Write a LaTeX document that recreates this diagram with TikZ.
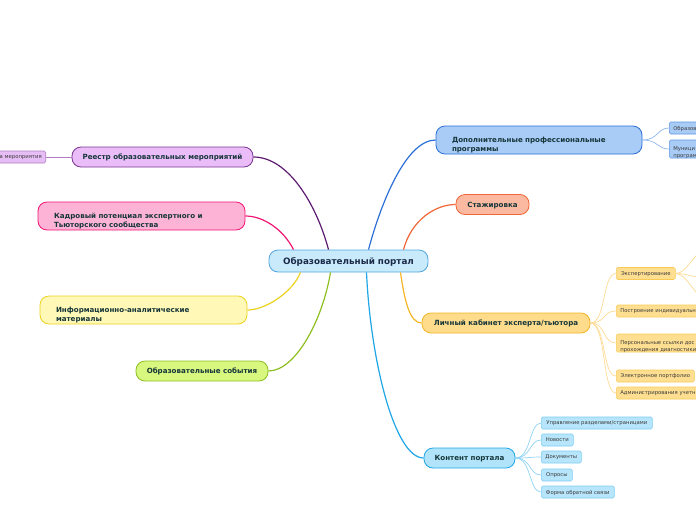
\documentclass[tikz,border=0pt]{standalone}
\usepackage{fontspec}
\setmainfont{DejaVu Sans}

\definecolor{nodetext}{HTML}{16363A}
\definecolor{leaftext}{HTML}{3A3A3A}
\definecolor{corefill}{HTML}{C8EAFB}
\definecolor{coreline}{HTML}{4FA6DE}
\definecolor{coretext}{HTML}{1B2A48}
\definecolor{reestrfill}{HTML}{EABDF9}
\definecolor{reestrline}{HTML}{7B3592}
\definecolor{reestrbranch}{HTML}{5C1A70}
\definecolor{reestrleaf}{HTML}{E6BDF5}
\definecolor{reestrleafline}{HTML}{B07CC4}
\definecolor{kadryfill}{HTML}{FDB3D6}
\definecolor{kadryline}{HTML}{EF1674}
\definecolor{infofill}{HTML}{FFF8B6}
\definecolor{infoline}{HTML}{EBD21E}
\definecolor{sobytiyafill}{HTML}{D8F77F}
\definecolor{sobytiyaline}{HTML}{8DBE20}
\definecolor{dppfill}{HTML}{A9CCF7}
\definecolor{dppline}{HTML}{2C6FD6}
\definecolor{dppleafline}{HTML}{5F97E0}
\definecolor{dpptwig}{HTML}{8FB6EE}
\definecolor{stazhfill}{HTML}{FBB9A1}
\definecolor{stazhline}{HTML}{F26534}
\definecolor{lkfill}{HTML}{FEDC8B}
\definecolor{lkline}{HTML}{F5B525}
\definecolor{lkleaf}{HTML}{FEDE90}
\definecolor{lkleafline}{HTML}{F9CB55}
\definecolor{lktwig}{HTML}{FDDB95}
\definecolor{kontentfill}{HTML}{B1E4FB}
\definecolor{kontentline}{HTML}{1FA6E6}
\definecolor{kontentleaf}{HTML}{B7E5FB}
\definecolor{kontentleafline}{HTML}{7FCDF2}
\definecolor{kontenttwig}{HTML}{8FD3F4}

\begin{document}
\begin{tikzpicture}[
            x = 1pt, y = -1pt,
            every node/.style={text depth=0pt, text=nodetext, line width=.8pt,
                font=\bfseries\fontsize{7.1}{8.6}\selectfont},
            topic/.style={draw, rounded corners=9pt, minimum height=20pt, inner sep=2pt},
            twoline/.style={topic, align=left, minimum height=28pt, inner xsep=16pt},
            leaf/.style={draw, rounded corners=1.5pt, text=leaftext, line width=.6pt,
                font=\fontsize{5.3}{6.2}\selectfont, minimum height=12pt,
                inner xsep=4pt, inner ysep=1pt, align=left},
            branch/.style={line width=1.2pt},
            twig/.style={line width=.7pt},
            ]

        \clip (0,0) rectangle (696,520);

        % centre
        \node[topic, fill=corefill, draw=coreline, minimum width=159pt, minimum height=22pt,
              text=coretext, font=\bfseries\fontsize{8.8}{10}\selectfont] (core) at (348.5,261) {Образовательный портал};

        % left side
        \node[topic, fill=reestrfill, draw=reestrline, minimum width=181pt] (reestr) at (162.5,157) {Реестр образовательных мероприятий};
        \node[leaf, fill=reestrleaf, draw=reestrleafline, text width=70pt, align=right, anchor=east] (afisha) at (46,157) {а мероприятия};
        \node[twoline, fill=kadryfill, draw=kadryline, text width=175pt] (kadry) at (141.5,216) {Кадровый потенциал экспертного и\\Тьюторского сообщества};
        \node[twoline, fill=infofill, draw=infoline, text width=175pt] (info) at (143.5,310) {Информационно-аналитические\\материалы};
        \node[topic, fill=sobytiyafill, draw=sobytiyaline, minimum width=132pt] (sobytiya) at (202,371) {Образовательные события};

        % right side
        \node[twoline, fill=dppfill, draw=dppline, text width=174pt] (dpp) at (539,140) {Дополнительные профессиональные\\программы};
        \node[leaf, fill=dppfill, draw=dppleafline, text width=60pt, anchor=west] (dpp1) at (669,128) {Образов};
        \node[leaf, fill=dppfill, draw=dppleafline, text width=60pt, anchor=west, minimum height=18pt] (dpp2) at (669,149) {Муници\\програм};
        \node[topic, fill=stazhfill, draw=stazhline, minimum width=73pt] (stazh) at (492.5,204.5) {Стажировка};
        \node[topic, fill=lkfill, draw=lkline, minimum width=168pt] (lk) at (506,323) {Личный кабинет эксперта/тьютора};
        \node[leaf, fill=lkleaf, draw=lkleafline, minimum width=59pt, anchor=west] (expert) at (616,273.5) {Экспертирование};
        \node[leaf, fill=lkleaf, draw=lkleafline, text width=100pt, anchor=west] (marshrut) at (616,311) {Построение индивидуальн};
        \node[leaf, fill=lkleaf, draw=lkleafline, text width=100pt, anchor=west, minimum height=18pt] (ssylki) at (616,343) {Персональные ссылки дос\\прохождения диагностики};
        \node[leaf, fill=lkleaf, draw=lkleafline, minimum width=78pt, anchor=west] (portfolio) at (616,376) {Электронное портфолио};
        \node[leaf, fill=lkleaf, draw=lkleafline, text width=100pt, anchor=west] (admin) at (616,393) {Администрирования учетн};
        \node[topic, fill=kontentfill, draw=kontentline, minimum width=91pt] (kontent) at (469.5,458) {Контент портала};
        \node[leaf, fill=kontentleaf, draw=kontentleafline, minimum width=111pt, anchor=west] (k1) at (541,423) {Управление разделами/страницами};
        \node[leaf, fill=kontentleaf, draw=kontentleafline, minimum width=32pt, anchor=west] (k2) at (541,440) {Новости};
        \node[leaf, fill=kontentleaf, draw=kontentleafline, minimum width=40pt, anchor=west] (k3) at (541,457) {Документы};
        \node[leaf, fill=kontentleaf, draw=kontentleafline, minimum width=31pt, anchor=west] (k4) at (541,475) {Опросы};
        \node[leaf, fill=kontentleaf, draw=kontentleafline, minimum width=73pt, anchor=west] (k5) at (541,492) {Форма обратной связи};

        \coordinate (e1) at (705,250);
        \coordinate (e2) at (705,278);
        \coordinate (e3) at (705,298);

        % main branches
        \draw[branch, reestrbranch] ([xshift=-20pt]core.north) .. controls +(-12,-45) and +(35,0) .. (reestr.east);
        \draw[branch, kadryline] ([xshift=-55pt]core.north) .. controls +(-10,-20) and +(18,0) .. (kadry.east);
        \draw[branch, infoline] ([xshift=-48pt]core.south) .. controls +(-8,20) and +(18,0) .. (info.east);
        \draw[branch, sobytiyaline] ([xshift=-18pt]core.south) .. controls +(-8,48) and +(27,0) .. (sobytiya.east);
        \draw[branch, dppline] ([xshift=20pt]core.north) .. controls +(12,-45) and +(-30,0) .. (dpp.west);
        \draw[branch, stazhline] ([xshift=55pt]core.north) .. controls +(8,-30) and +(-20,0) .. (stazh.west);
        \draw[branch, lkline] ([xshift=52pt]core.south) .. controls +(4,28) and +(-12,0) .. (lk.west);
        \draw[branch, kontentline] ([xshift=18pt]core.south) .. controls +(4,88) and +(-29,0) .. (kontent.west);

        % leaf branches
        \draw[twig, reestrleafline] (reestr.west) -- (afisha.east);
        \foreach \leafname in {dpp1, dpp2}
            \draw[twig, dpptwig] (dpp.east) .. controls +(16,0) and +(-12,0) .. (\leafname.west);
        \foreach \leafname in {expert, marshrut, ssylki, portfolio, admin}
            \draw[twig, lktwig] (lk.east) .. controls +(16,0) and +(-14,0) .. (\leafname.west);
        \foreach \endname in {e1, e2, e3}
            \draw[twig, lktwig] (expert.east) .. controls +(12,0) and +(-10,0) .. (\endname);
        \foreach \leafname in {k1, k2, k3, k4, k5}
            \draw[twig, kontenttwig] (kontent.east) .. controls +(16,0) and +(-12,0) .. (\leafname.west);
    \end{tikzpicture}
\end{document}
